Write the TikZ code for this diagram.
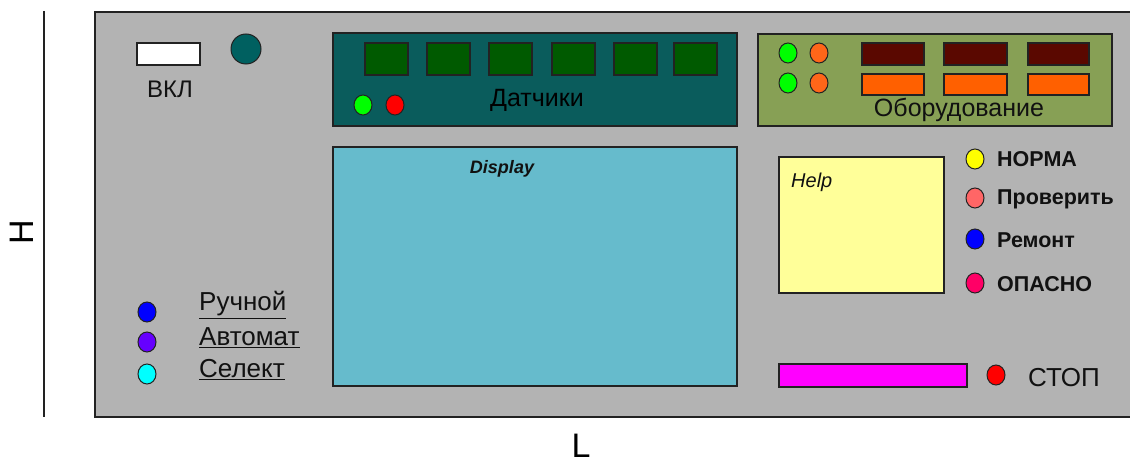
\documentclass[tikz,border=0pt]{standalone}
\usepackage{fontspec}
\setmainfont{Liberation Sans}
\usetikzlibrary{shapes.geometric}
\definecolor{panelgray}{HTML}{B3B3B3}
\definecolor{sensorbg}{HTML}{0A5C5C}
\definecolor{sensorsq}{HTML}{005A00}
\definecolor{equipbg}{HTML}{87A055}
\definecolor{equipdark}{HTML}{5A0800}
\definecolor{equiporange}{HTML}{FF6000}
\definecolor{lamporange}{HTML}{FF6619}
\definecolor{lampgreen}{HTML}{00FF00}
\definecolor{lampred}{HTML}{FF0000}
\definecolor{lampblue}{HTML}{0000FF}
\definecolor{lampyellow}{HTML}{FFFF00}
\definecolor{lampcyan}{HTML}{00FFFF}
\definecolor{displaybg}{HTML}{66BBCC}
\definecolor{helpbg}{HTML}{FFFF99}
\definecolor{knob}{HTML}{006060}
\definecolor{salmon}{HTML}{FF6666}
\definecolor{danger}{HTML}{FF0066}
\definecolor{lamppurple}{HTML}{6600FF}
\definecolor{stopbar}{HTML}{FF00FF}
\definecolor{edge}{HTML}{222222}
\definecolor{ink}{HTML}{111111}
\tikzset{
  box/.style={draw=edge, line width=1.2pt, inner sep=0pt, outer sep=0pt},
  lamp/.style={draw=edge, line width=1pt, ellipse, inner sep=0pt, minimum width=18pt, minimum height=20pt},
  lbl/.style={inner sep=0pt, text=ink, font=\fontsize{25}{28}\selectfont},
  blbl/.style={inner sep=0pt, anchor=west, text=ink, font=\fontsize{21.5}{24}\selectfont\bfseries},
  mlbl/.style={inner sep=0pt, anchor=west, text=ink, font=\fontsize{26}{28}\selectfont},
}
\begin{document}
\begin{tikzpicture}[x=1pt,y=-1pt]
\useasboundingbox (0,0) rectangle (1130,476);
\clip (0,0) rectangle (1130,476);

% dimension marks
\coordinate (hTop) at (44,11);
\coordinate (hBot) at (44,417);
\draw[line width=1.5pt, edge] (hTop) -- (hBot);
\node[rotate=90, inner sep=0pt, font=\fontsize{34}{36}\selectfont] (H) at (22,232) {H};
\node[inner sep=0pt, font=\fontsize{34}{36}\selectfont] (L) at (581,446) {L};

% control panel body
\node[box, fill=panelgray, line width=1.5pt, anchor=north west, minimum width=1070pt, minimum height=405pt] (panel) at (95,12) {};

% power switch and knob
\node[box, fill=white, anchor=north west, minimum width=63pt, minimum height=22pt] (onsw) at (137,43) {};
\node[lbl, font=\fontsize{24}{28}\selectfont] (onlbl) at (170,89) {ВКЛ};
\node[draw=edge, line width=1pt, circle, fill=knob, minimum size=30pt, inner sep=0pt] (knob) at (246,49) {};

% sensors block
\node[box, fill=sensorbg, anchor=north west, minimum width=404pt, minimum height=93pt] (sensors) at (333,33) {};
\foreach \i/\x in {1/365,2/427,3/489,4/552,5/614,6/674}
  \node[box, fill=sensorsq, anchor=north west, minimum width=43pt, minimum height=32pt] (s\i) at (\x,43) {};
\node[lamp, fill=lampgreen] (sg) at (363,105) {};
\node[lamp, fill=lampred] (sr) at (395,105) {};
\node[lbl, text=black] (sensorlbl) at (537,100) {Датчики};

% equipment block
\node[box, fill=equipbg, anchor=north west, minimum width=354pt, minimum height=92pt] (equip) at (758,34) {};
\node[lamp, fill=lampgreen] (eg1) at (788,53) {};
\node[lamp, fill=lampgreen] (eg2) at (788,83) {};
\node[lamp, fill=lamporange] (eo1) at (819,53) {};
\node[lamp, fill=lamporange] (eo2) at (819,83) {};
\foreach \i/\x/\w in {1/862/62,2/944/63,3/1028/61}{
  \node[box, fill=equipdark, anchor=north west, minimum width=\w pt, minimum height=22pt] (ed\i) at (\x,43) {};
  \node[box, fill=equiporange, anchor=north west, minimum width=\w pt, minimum height=21pt] (eb\i) at (\x,74) {};
}
\node[lbl] (equiplbl) at (959,110) {Оборудование};

% display
\node[box, fill=displaybg, anchor=north west, minimum width=404pt, minimum height=239pt] (display) at (333,147) {};
\node[inner sep=0pt, text=ink, font=\fontsize{18}{20}\selectfont\bfseries\itshape] (displbl) at (502,169) {Display};

% help window
\node[box, fill=helpbg, anchor=north west, minimum width=165pt, minimum height=136pt] (help) at (779,157) {};
\node[inner sep=0pt, anchor=west, text=ink, font=\fontsize{20}{24}\selectfont\itshape] (helplbl) at (791,182) {Help};

% status indicators
\node[lamp, fill=lampyellow] (st1) at (975,159) {};
\node[lamp, fill=salmon] (st2) at (975,198) {};
\node[lamp, fill=lampblue] (st3) at (975,239) {};
\node[lamp, fill=danger] (st4) at (975,283) {};
\node[blbl] (stl1) at (997,159) {НОРМА};
\node[blbl] (stl2) at (997,199) {Проверить};
\node[blbl] (stl3) at (997,240) {Ремонт};
\node[blbl] (stl4) at (997,284) {ОПАСНО};

% mode selector
\node[lamp, fill=lampblue] (m1) at (147,312) {};
\node[lamp, fill=lamppurple] (m2) at (147,342) {};
\node[lamp, fill=lampcyan] (m3) at (147,374) {};
\node[mlbl] (ml1) at (199,305) {\underline{Ручной}};
\node[mlbl] (ml2) at (199,338) {\underline{Автомат}};
\node[mlbl] (ml3) at (199,370) {\underline{Селект}};

% stop control
\node[box, fill=stopbar, anchor=north west, minimum width=188pt, minimum height=23pt] (stopbar) at (779,364) {};
\node[lamp, fill=lampred] (stoplamp) at (996,375) {};
\node[lbl, anchor=west, font=\fontsize{26}{28}\selectfont] (stoplbl) at (1028,378) {СТОП};
\end{tikzpicture}
\end{document}
